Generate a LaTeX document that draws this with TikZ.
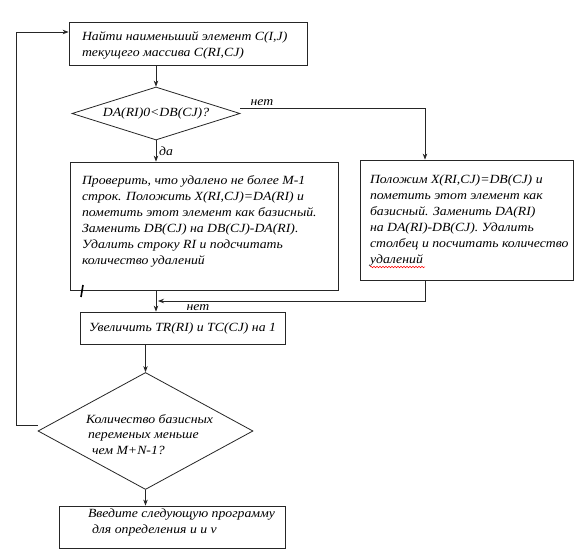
\documentclass[tikz,border=0pt]{standalone}
\usepackage{fontspec}
\setmainfont[FakeStretch=1.1]{Liberation Serif}
\usetikzlibrary{arrows.meta,shapes.geometric,decorations.pathmorphing}
\newcommand\lftblock[2]{\makebox[#1][l]{\begin{tabular}{@{}l@{}}#2\end{tabular}}}
\newcommand\shiftv[2]{\raisebox{#1}[\height][\depth]{#2}}
\tikzset{
  box/.style={draw=black!85, line width=0.8pt, rectangle, inner sep=0pt, font=\itshape\fontsize{12.5}{16}\selectfont},
  dia/.style={draw=black!85, line width=0.8pt, diamond, inner sep=0pt, font=\itshape\fontsize{12.5}{15.5}\selectfont},
  conn/.style={draw=black!85, line width=0.8pt},
  arr/.style={conn, -{Stealth[length=6pt,width=4.5pt]}},
  lbl/.style={font=\itshape\fontsize{12.5}{14}\selectfont, inner sep=0pt},
}
\begin{document}
\begin{tikzpicture}[x=1pt,y=-1pt]
\useasboundingbox (0,0) rectangle (574,559);
\fill[white] (0,0) rectangle (574,559);

\node[box, minimum width=238pt, minimum height=43pt] (b1) at (188,43.5)
  {\shiftv{-2pt}{\lftblock{212pt}{Найти наименьший элемент C(I,J)\\текущего массива C(RI,CJ)}}};
\node[dia, aspect=3.17, minimum width=168pt, minimum height=53pt] (d1) at (156,113.5) {DA(RI)0<DB(CJ)?};
\node[box, minimum width=268pt, minimum height=128pt] (b2) at (204,226)
  {\shiftv{4.5pt}{\lftblock{244pt}{Проверить, что удалено не более M-1\\строк. Положить X(RI,CJ)=DA(RI) и\\пометить этот элемент как базисный.\\Заменить DB(CJ) на DB(CJ)-DA(RI).\\Удалить строку RI и подсчитать\\количество удалений}}};
\node[box, minimum width=213pt, minimum height=120pt] (b5) at (466.5,220)
  {\lftblock{193pt}{Положим X(RI,CJ)=DB(CJ) и\\пометить этот элемент как\\базисный. Заменить DA(RI)\\на DA(RI)-DB(CJ). Удалить\\столбец и посчитать количество\\удалений}};
\node[box, minimum width=205pt, minimum height=32pt] (b3) at (182.5,328)
  {Увеличить TR(RI) и TC(CJ) на 1};
\node[dia, aspect=1.84, minimum width=215pt, minimum height=117pt] (d2) at (145.5,431)
  {\makebox[0pt]{\hspace*{8pt}\shiftv{-4.5pt}{\begin{tabular}{@{}l@{}}Количество базисных\\\hspace*{2pt}переменых меньше\\\hspace*{6pt}чем M+N-1?\end{tabular}}}};
\node[box, minimum width=226pt, minimum height=42pt] (b4) at (172,527)
  {\shiftv{5pt}{\lftblock{168pt}{Введите следующую программу\\\hspace*{4pt}для определения u и v}}};

\coordinate (c1) at (156,0);
\coordinate (rx) at (425,0);
\coordinate (lp) at (16,0);
\coordinate (jn) at (156,301);
\coordinate (c2) at (145.5,0);

\draw[arr] (c1 |- b1.south) -- (d1.north);
\draw[arr] (d1.south) -- (c1 |- b2.north);
\draw[arr] ([yshift=5pt]d1.east) -- ([yshift=5pt]d1.east -| rx) -- (rx |- b5.north);
\draw[arr] (c1 |- b2.south) -- (c1 |- b3.north);
\draw[arr] (rx |- b5.south) -- (rx |- jn) -- ([xshift=2pt]jn);
\draw[arr] (c2 |- b3.south) -- (d2.north);
\draw[arr] (d2.south) -- (c2 |- b4.north);
\draw[arr] ([yshift=6pt]d2.west) -- ([yshift=6pt]d2.west -| lp) -- ([yshift=11.5pt]lp |- b1.west) -- ([yshift=11.5pt]b1.west);

\node[lbl] (l1) at (262,103) {нет};
\node[lbl] (l2) at (166,151) {да};
\node[lbl] (l3) at (198,308) {нет};

\draw[line width=1.6pt, black] (83,285) -- (81,297);
\draw[red, line width=0.5pt, decorate, decoration={snake, amplitude=0.8pt, segment length=3pt}] (370,267) -- (425,267);
\end{tikzpicture}
\end{document}
